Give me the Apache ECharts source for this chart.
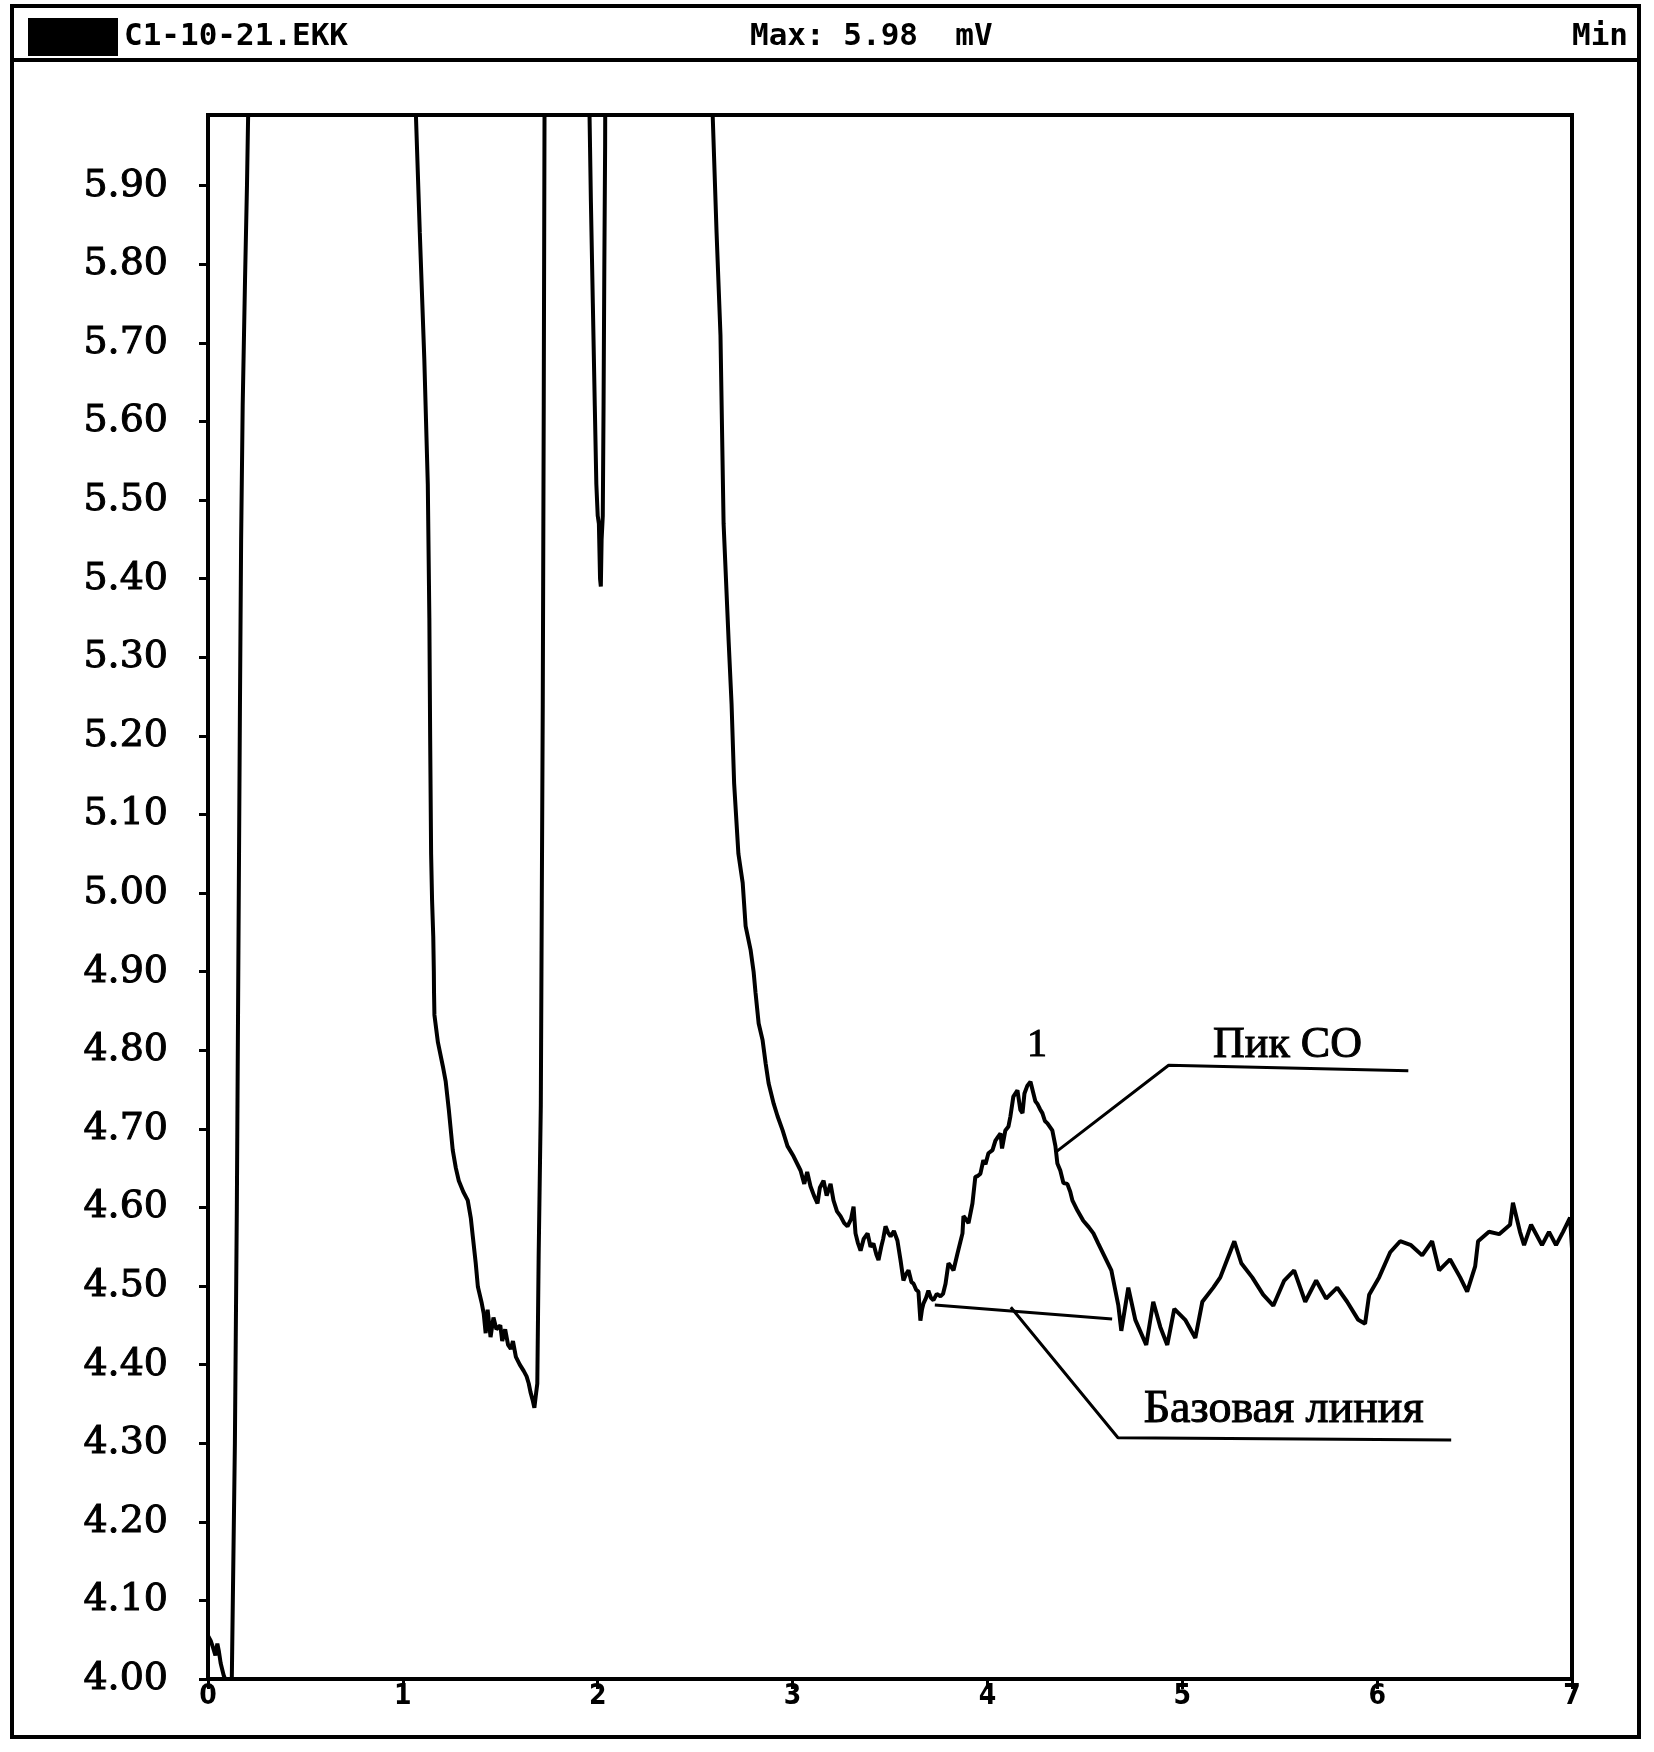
<!DOCTYPE html>
<html>
<head>
<meta charset="utf-8">
<script src="https://cdn.jsdelivr.net/npm/echarts@6/dist/echarts.min.js"></script>
<style>
  html, body { margin: 0; padding: 0; background: #fff; }
  #chart { width: 1654px; height: 1752px; }
</style>
</head>
<body>
<div id="chart"></div>
<script>
// ---- Data (time in min, signal in mV); values above 5.99 are off-scale ----
const traceTime = [
  0.000, 0.015, 0.026, 0.038, 0.048, 0.056, 0.065, 0.080, 0.095, 0.110, 0.122, 0.130,
  0.138, 0.148, 0.158, 0.164, 0.170, 0.178, 0.190, 0.200, 0.206, 0.215,
  1.060, 1.067, 1.087, 1.110, 1.128, 1.136, 1.140, 1.145, 1.150, 1.156, 1.159, 1.160, 1.162,
  1.180, 1.205, 1.220, 1.236, 1.256, 1.272, 1.287, 1.310, 1.333, 1.349, 1.359, 1.374, 1.385,
  1.405, 1.415, 1.425, 1.435, 1.450, 1.465, 1.480, 1.500, 1.510, 1.525, 1.540, 1.554, 1.565,
  1.580, 1.600, 1.620, 1.635, 1.646, 1.655, 1.667, 1.675, 1.682, 1.690, 1.697, 1.708, 1.713,
  1.718, 1.723, 1.727, 1.732,
  1.952, 1.958, 1.965, 1.975, 1.985, 1.993, 2.000, 2.006, 2.012, 2.016, 2.020, 2.026, 2.030,
  2.034, 2.038, 2.042,
  2.585, 2.590, 2.610, 2.630, 2.646, 2.672, 2.687, 2.700, 2.722, 2.744, 2.759, 2.785, 2.800,
  2.810, 2.826, 2.846, 2.862, 2.877, 2.903, 2.923, 2.949, 2.974, 3.005, 3.041, 3.060, 3.075,
  3.092, 3.110, 3.128, 3.140, 3.159, 3.175, 3.195, 3.210, 3.228, 3.246, 3.265, 3.282, 3.300,
  3.313, 3.323, 3.335, 3.349, 3.365, 3.385, 3.400, 3.415, 3.430, 3.441, 3.455, 3.465, 3.477,
  3.490, 3.503, 3.520, 3.538, 3.554, 3.569, 3.582, 3.595, 3.610, 3.621, 3.635, 3.646, 3.656,
  3.664, 3.672, 3.685, 3.697, 3.710, 3.723, 3.740, 3.759, 3.772, 3.785, 3.800, 3.813, 3.826,
  3.846, 3.860, 3.872, 3.877, 3.890, 3.903, 3.923, 3.938, 3.950, 3.964, 3.979, 3.990, 4.005,
  4.026, 4.041, 4.055, 4.067, 4.075, 4.092, 4.108, 4.118, 4.133, 4.154, 4.169, 4.180, 4.190,
  4.205, 4.221, 4.236, 4.246, 4.256, 4.270, 4.282, 4.295, 4.308, 4.333, 4.349, 4.359, 4.374,
  4.390, 4.410, 4.425, 4.436, 4.462, 4.492, 4.520, 4.544, 4.569,
  4.636, 4.672, 4.687, 4.723, 4.759, 4.815, 4.851, 4.887, 4.923, 4.959, 5.015, 5.067, 5.103,
  5.159, 5.195, 5.231, 5.267, 5.303, 5.359, 5.415, 5.467, 5.523, 5.574, 5.631, 5.687, 5.738,
  5.795, 5.846, 5.903, 5.938, 5.959, 6.010, 6.067, 6.118, 6.174, 6.231, 6.282, 6.318, 6.374,
  6.426, 6.462, 6.503, 6.518, 6.574, 6.626, 6.682, 6.697, 6.733, 6.754, 6.790, 6.846, 6.882,
  6.918, 6.954, 6.990, 7.000
];
const traceValue = [
  4.055, 4.048, 4.040, 4.030, 4.045, 4.035, 4.020, 4.005, 3.995, 3.993, 3.997, 3.995,
  4.300, 4.600, 5.000, 5.240, 5.450, 5.620, 5.780, 5.900, 5.990, 6.300,
  6.300, 5.990, 5.840, 5.680, 5.520, 5.350, 5.200, 5.050, 4.990, 4.945, 4.900, 4.873, 4.845,
  4.810, 4.780, 4.760, 4.724, 4.673, 4.650, 4.634, 4.620, 4.609, 4.586, 4.563, 4.529, 4.499,
  4.478, 4.465, 4.440, 4.470, 4.435, 4.460, 4.445, 4.450, 4.430, 4.445, 4.425, 4.420, 4.430,
  4.410, 4.400, 4.392, 4.385, 4.376, 4.365, 4.354, 4.345, 4.360, 4.376, 4.540, 4.730, 4.990,
  5.240, 5.620, 5.990, 6.300,
  6.300, 5.990, 5.880, 5.750, 5.620, 5.520, 5.480, 5.470, 5.400, 5.390, 5.450, 5.480, 5.620,
  5.800, 5.950, 6.300,
  6.300, 5.990, 5.840, 5.710, 5.470, 5.320, 5.240, 5.140, 5.050, 5.013, 4.958, 4.927, 4.900,
  4.873, 4.834, 4.813, 4.783, 4.758, 4.732, 4.716, 4.698, 4.678, 4.665, 4.647, 4.630, 4.645,
  4.627, 4.615, 4.605, 4.625, 4.634, 4.615, 4.630, 4.609, 4.595, 4.589, 4.580, 4.576, 4.585,
  4.601, 4.567, 4.555, 4.545, 4.560, 4.567, 4.550, 4.554, 4.540, 4.533, 4.550, 4.560, 4.576,
  4.568, 4.563, 4.570, 4.558, 4.533, 4.507, 4.515, 4.520, 4.505, 4.503, 4.495, 4.493, 4.456,
  4.470, 4.478, 4.485, 4.494, 4.485, 4.482, 4.490, 4.487, 4.490, 4.503, 4.529, 4.525, 4.520,
  4.541, 4.555, 4.567, 4.589, 4.585, 4.580, 4.605, 4.639, 4.640, 4.643, 4.660, 4.655, 4.669,
  4.673, 4.685, 4.690, 4.694, 4.675, 4.698, 4.703, 4.716, 4.741, 4.749, 4.724, 4.720, 4.745,
  4.755, 4.760, 4.745, 4.735, 4.732, 4.725, 4.720, 4.710, 4.707, 4.698, 4.678, 4.656, 4.647,
  4.631, 4.630, 4.620, 4.609, 4.596, 4.583, 4.575, 4.567, 4.554,
  4.520, 4.475, 4.443, 4.498, 4.457, 4.425, 4.480, 4.448, 4.425, 4.471, 4.457, 4.434, 4.480,
  4.498, 4.511, 4.534, 4.557, 4.529, 4.511, 4.489, 4.475, 4.507, 4.520, 4.480, 4.507, 4.484,
  4.498, 4.480, 4.457, 4.452, 4.489, 4.511, 4.543, 4.557, 4.552, 4.539, 4.557, 4.520, 4.534,
  4.511, 4.493, 4.525, 4.557, 4.569, 4.566, 4.578, 4.606, 4.569, 4.552, 4.578, 4.552, 4.569,
  4.552, 4.569, 4.587, 4.548
];
// Baseline under the CO peak
const baselineTime = [3.73, 4.64];
const baselineValue = [4.476, 4.458];
// Leader lines for annotations
const peakLeaderTime = [4.354, 4.93, 6.16];
const peakLeaderValue = [4.671, 4.781, 4.774];
const baseLeaderTime = [4.12, 4.67, 6.38];
const baseLeaderValue = [4.473, 4.307, 4.304];
// Annotation texts
const labelTime = [4.254, 5.54, 5.52];
const labelValue = [4.806, 4.806, 4.342];
const labelText = ['1', 'Пик CO', 'Базовая линия'];
// Axis settings
const xMin = 0, xMax = 7, xStep = 1;
const yMin = 4.0, yMax = 5.99, yStep = 0.1;
// Header texts
const headerFile = 'C1-10-21.EKK';
const headerMax = 'Max: 5.98  mV';
const headerUnit = 'Min';

const zip = (a, b) => a.map((v, i) => [v, b[i]]);

const chart = echarts.init(document.getElementById('chart'), null, { renderer: 'canvas' });

const labelFonts = [
  { fontSize: 40, fontFamily: 'Liberation Serif' },
  { fontSize: 44, fontFamily: 'Liberation Serif' },
  { fontSize: 46, fontFamily: 'Liberation Serif' }
];

chart.setOption({
  animation: false,
  backgroundColor: '#fff',
  grid: { left: 208, top: 115, right: 82, bottom: 73, show: true, borderColor: '#000', borderWidth: 4 },
  xAxis: {
    type: 'value', min: xMin, max: xMax, interval: xStep,
    axisLine: { show: true, onZero: false, lineStyle: { color: '#000', width: 4 } },
    axisTick: { show: true, length: 10, lineStyle: { color: '#000', width: 3 } },
    axisLabel: { color: '#000', fontSize: 28, fontWeight: 'bold', fontFamily: 'DejaVu Sans Condensed', margin: 4 },
    splitLine: { show: false }
  },
  yAxis: {
    type: 'value', min: yMin, max: yMax, interval: yStep,
    axisLine: { show: true, onZero: false, lineStyle: { color: '#000', width: 4 } },
    axisTick: { show: true, length: 9, lineStyle: { color: '#000', width: 3 } },
    axisLabel: {
      color: '#000', fontSize: 38, fontFamily: 'DejaVu Serif', margin: 40,
      textBorderColor: '#000', textBorderWidth: 1,
      showMaxLabel: false,
      formatter: v => v.toFixed(2)
    },
    splitLine: { show: false }
  },
  graphic: [
    { type: 'rect', shape: { x: 12, y: 6, width: 1627, height: 1731 }, style: { fill: null, stroke: '#000', lineWidth: 4 }, silent: true },
    { type: 'line', shape: { x1: 12, y1: 60, x2: 1639, y2: 60 }, style: { stroke: '#000', lineWidth: 4 }, silent: true },
    { type: 'rect', shape: { x: 28, y: 18, width: 90, height: 38 }, style: { fill: '#000' }, silent: true },
    { type: 'text', x: 124, y: 37, style: { text: headerFile, fill: '#000', font: 'bold 31px "DejaVu Sans Mono"', textVerticalAlign: 'middle' } },
    { type: 'text', x: 750, y: 37, style: { text: headerMax, fill: '#000', font: 'bold 31px "DejaVu Sans Mono"', textVerticalAlign: 'middle' } },
    { type: 'text', x: 1572, y: 37, style: { text: headerUnit, fill: '#000', font: 'bold 31px "DejaVu Sans Mono"', textVerticalAlign: 'middle' } }
  ],
  series: [
    {
      type: 'line', data: zip(traceTime, traceValue), showSymbol: false, clip: true,
      lineStyle: { color: '#000', width: 4 }, z: 5
    },
    {
      type: 'line', data: zip(baselineTime, baselineValue), showSymbol: false,
      lineStyle: { color: '#000', width: 3 }
    },
    {
      type: 'line', data: zip(peakLeaderTime, peakLeaderValue), showSymbol: false,
      lineStyle: { color: '#000', width: 3 }
    },
    {
      type: 'line', data: zip(baseLeaderTime, baseLeaderValue), showSymbol: false,
      lineStyle: { color: '#000', width: 3 }
    },
    {
      type: 'scatter', symbolSize: 0,
      itemStyle: { color: '#000', opacity: 1 },
      data: labelTime.map((t, i) => ({
        value: [t, labelValue[i]], name: labelText[i],
        label: Object.assign({
          show: true, position: 'inside', formatter: labelText[i],
          color: '#000', textBorderColor: '#000', textBorderWidth: 1
        }, labelFonts[i])
      }))
    }
  ]
});
</script>
</body>
</html>
